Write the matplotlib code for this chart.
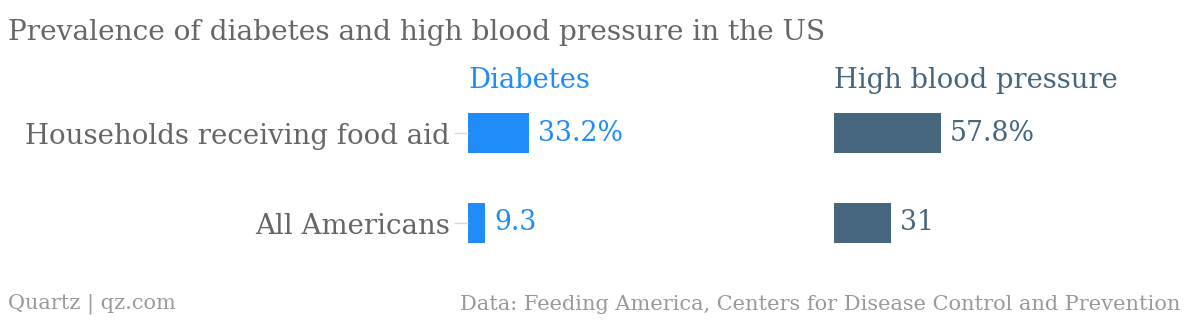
import matplotlib.pyplot as plt

categories = ['Households receiving food aid', 'All Americans']
diabetes = [33.2, 9.3]
hbp = [57.8, 31]
diabetes_labels = ['33.2%', '9.3']
hbp_labels = ['57.8%', '31']

W, H = 1200, 322
BLUE = '#1f8cfa'
SLATE = '#46657f'
GRAY = '#666666'
FONT = 'DejaVu Serif'

fig = plt.figure(figsize=(W / 100, H / 100), dpi=100)
fig.patch.set_facecolor('white')


def px_axes(x0, y0, w, h):
    # pixel box (top-left origin) -> figure fraction
    return fig.add_axes([x0 / W, 1 - (y0 + h) / H, w / W, h / H])


scale = 1.85  # px per percentage point
panel_w = 340
panels = [(468, diabetes, diabetes_labels, BLUE, 'Diabetes'),
          (834, hbp, hbp_labels, SLATE, 'High blood pressure')]

for i, (x0, vals, labels, color, name) in enumerate(panels):
    ax = px_axes(x0, 88, panel_w, 180)
    ypos = [0, 1]
    ax.barh(ypos, vals, height=0.45, color=color)
    ax.set_xlim(0, panel_w / scale)
    ax.set_ylim(1.5, -0.5)
    for s in ax.spines.values():
        s.set_visible(False)
    ax.set_xticks([])
    for y, v, lab in zip(ypos, vals, labels):
        ax.annotate(lab, (v, y), xytext=(6.5, 0), textcoords='offset points',
                    va='center', ha='left', fontsize=19.3, color=color,
                    family=FONT)
    if i == 0:
        ax.set_yticks(ypos)
        ax.set_yticklabels(categories, fontsize=19.9, color=GRAY, family=FONT)
        ax.tick_params(axis='y', length=10, width=1, color='#d9d9d9', pad=3)
    else:
        ax.set_yticks([])
    fig.text(x0 / W, 1 - 80 / H, name, fontsize=19.7, color=color,
             family=FONT, va='center', ha='left')

fig.text(8 / W, 1 - 33 / H, 'Prevalence of diabetes and high blood pressure in the US',
         fontsize=20.2, color=GRAY, family=FONT, va='center', ha='left')
fig.text(8 / W, 1 - 304 / H, 'Quartz | qz.com', fontsize=15, color='#999999',
         family=FONT, va='center', ha='left')
fig.text(1180 / W, 1 - 304 / H,
         'Data: Feeding America, Centers for Disease Control and Prevention',
         fontsize=15, color='#999999', family=FONT, va='center', ha='right')

fig.savefig('out.png', dpi=100, facecolor='white')
